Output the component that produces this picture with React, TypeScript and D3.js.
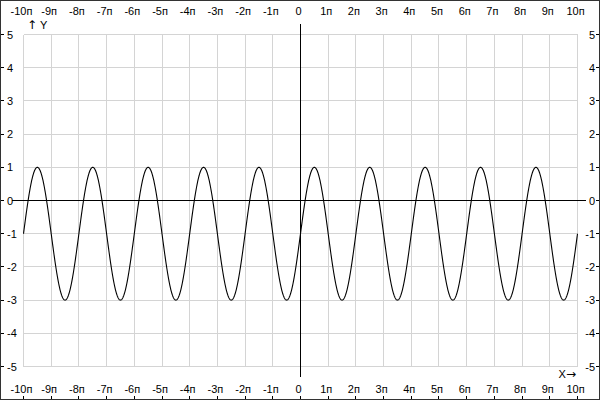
import React from "react";
import * as d3 from "d3";

// ---- data ----
const X_TICKS: number[] = [-10, -9, -8, -7, -6, -5, -4, -3, -2, -1, 0, 1, 2, 3, 4, 5, 6, 7, 8, 9, 10]; // multiples of π
const X_TICK_LABELS: string[] = X_TICKS.map((k) => (k === 0 ? "0" : `${k}п`));
const Y_TICKS: number[] = [-5, -4, -3, -2, -1, 0, 1, 2, 3, 4, 5];
// plotted function: y = AMPLITUDE * sin(x) + OFFSET
const AMPLITUDE = 2;
const OFFSET = -1;
const X_MIN = -10 * Math.PI;
const X_MAX = 10 * Math.PI;
const SAMPLES = 2000;

const W = 600;
const H = 400;

export default function App() {
  const x = d3.scaleLinear().domain([X_MIN, X_MAX]).range([23.5, 577.5]);
  const y = d3.scaleLinear().domain([-5, 5]).range([366.5, 34.5]);
  const crisp = (v: number) => Math.round(v - 0.5) + 0.5;

  const pts: [number, number][] = d3
    .range(SAMPLES + 1)
    .map((i) => X_MIN + ((X_MAX - X_MIN) * i) / SAMPLES)
    .map((t) => [t, AMPLITUDE * Math.sin(t) + OFFSET]);
  const line = d3
    .line<[number, number]>()
    .x((d) => x(d[0]))
    .y((d) => y(d[1]));

  const font = "'Liberation Sans', Arial, sans-serif";
  const arrowFont = "'DejaVu Sans', sans-serif";
  const x0 = crisp(x(0));
  const y0 = crisp(y(0));

  return (
    <div style={{ position: "fixed", left: 0, top: 0 }}>
      <svg width={W} height={H} style={{ display: "block", background: "#fff" }}>
        <rect x={0} y={0} width={W} height={H} fill="#fff" />
        {/* grid */}
        <g stroke="#d4d4d4" strokeWidth={1} shapeRendering="crispEdges">
          {X_TICKS.map((k) => (
            <line key={"gx" + k} x1={crisp(x(k * Math.PI))} x2={crisp(x(k * Math.PI))} y1={crisp(y(5))} y2={crisp(y(-5))} />
          ))}
          {Y_TICKS.map((v) => (
            <line key={"gy" + v} x1={crisp(x(X_MIN))} x2={crisp(x(X_MAX))} y1={crisp(y(v))} y2={crisp(y(v))} />
          ))}
        </g>
        {/* axes */}
        <g stroke="#000" strokeWidth={1} shapeRendering="crispEdges">
          <line x1={12} x2={586} y1={y0} y2={y0} />
          <line x1={x0} x2={x0} y1={24} y2={377} />
        </g>
        {/* curve */}
        <path d={line(pts) || ""} fill="none" stroke="#000" strokeWidth={1.1} />
        {/* ticks */}
        <g stroke="#000" strokeWidth={1} shapeRendering="crispEdges">
          {X_TICKS.map((k) => (
            <line key={"tb" + k} x1={crisp(x(k * Math.PI))} x2={crisp(x(k * Math.PI))} y1={396} y2={400} />
          ))}
          {Y_TICKS.map((v) => (
            <line key={"tl" + v} x1={0} x2={4} y1={crisp(y(v))} y2={crisp(y(v))} />
          ))}
          {Y_TICKS.map((v) => (
            <line key={"tr" + v} x1={596} x2={600} y1={crisp(y(v))} y2={crisp(y(v))} />
          ))}
        </g>
        {/* labels */}
        <g fontFamily={font} fontSize={11} fill="#000">
          {X_TICKS.map((k, i) => (
            <text key={"lt" + k} x={x(k * Math.PI) - 2} y={15} textAnchor="middle">
              {X_TICK_LABELS[i]}
            </text>
          ))}
          {X_TICKS.map((k, i) => (
            <text key={"lb" + k} x={x(k * Math.PI) - 2} y={393} textAnchor="middle">
              {X_TICK_LABELS[i]}
            </text>
          ))}
          {Y_TICKS.map((v) => (
            <text key={"ll" + v} x={7} y={y(v) + 4} textAnchor="start">
              {String(v)}
            </text>
          ))}
          {Y_TICKS.map((v) => (
            <text key={"lr" + v} x={595} y={y(v) + 4} textAnchor="end">
              {String(v)}
            </text>
          ))}
          <text x={27} y={29}>
            <tspan fontFamily={arrowFont} fontSize={12}>↑</tspan> Y
          </text>
          <text x={576} y={378} textAnchor="end">
            X<tspan fontFamily={arrowFont} fontSize={12}>→</tspan>
          </text>
        </g>
        <rect x={0.5} y={0.5} width={W - 1} height={H - 1} fill="none" stroke="#333" strokeWidth={1} shapeRendering="crispEdges" />
      </svg>
    </div>
  );
}
